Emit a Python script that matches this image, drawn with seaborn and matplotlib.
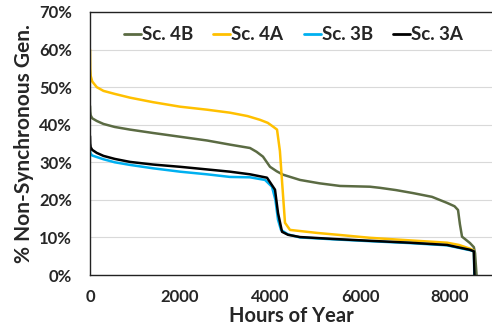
import matplotlib
matplotlib.use("Agg")
import matplotlib.pyplot as plt
import seaborn as sns
import pandas as pd
from matplotlib.lines import Line2D
from matplotlib.ticker import FuncFormatter

# ---- data ----
hours_4b = [0, 5, 15, 50, 150, 300, 550, 889, 1400, 2000, 2600, 3111, 3556, 3700, 3844, 4000, 4150, 4289, 4667, 5100, 5556, 6222, 6444, 6800, 7178, 7600, 7933, 8100, 8178, 8220, 8267, 8444, 8530, 8556, 8590]
sc4b = [45, 43.5, 42.5, 41.7, 41, 40.2, 39.4, 38.7, 37.8, 36.8, 35.8, 34.7, 33.8, 32.8, 31.5, 28.8, 27.6, 26.7, 25.3, 24.4, 23.7, 23.5, 23.2, 22.6, 21.8, 20.8, 19.2, 18.3, 17.3, 13.5, 10.2, 8.5, 7.4, 5.8, 0]

hours_4a = [0, 5, 15, 50, 150, 300, 550, 889, 1400, 2000, 2600, 3111, 3500, 3778, 3950, 4067, 4156, 4220, 4267, 4333, 4444, 5044, 5600, 6222, 7000, 7933, 8200, 8444, 8530, 8550]
sc4a = [60, 55, 53, 51.5, 50, 49, 48.2, 47.2, 46, 44.8, 44, 43.2, 42.3, 41.3, 40.5, 39.5, 38.7, 33, 25, 13.9, 12, 11.2, 10.6, 9.9, 9.3, 8.6, 8.0, 7.0, 6.5, 0]

hours_3b = [0, 5, 15, 50, 150, 300, 550, 889, 1400, 2000, 2600, 3111, 3556, 3889, 4044, 4120, 4178, 4244, 4400, 4667, 5400, 6222, 7100, 7933, 8444, 8530, 8540]
sc3b = [33.5, 32.8, 32.3, 31.8, 31.4, 30.8, 30.0, 29.3, 28.4, 27.5, 26.8, 26.1, 26.0, 25.3, 23.5, 20, 14.7, 12, 10.8, 10.0, 9.5, 9.0, 8.5, 7.9, 6.6, 6.3, 0]

hours_3a = [0, 5, 15, 50, 150, 300, 550, 889, 1400, 2000, 2600, 3111, 3556, 3933, 4111, 4178, 4267, 4400, 4667, 5400, 6222, 7100, 7933, 8444, 8530, 8545]
sc3a = [37, 35, 34, 33.3, 32.5, 31.7, 30.9, 30.1, 29.4, 28.8, 28.1, 27.5, 26.8, 25.9, 22.7, 16.5, 11.5, 10.7, 10.1, 9.6, 9.1, 8.6, 8.0, 6.7, 6.3, 0]

series_names = ["Sc. 4B", "Sc. 4A", "Sc. 3B", "Sc. 3A"]
x_ticks = [0, 2000, 4000, 6000, 8000]
y_ticks = [0, 10, 20, 30, 40, 50, 60, 70]

colors = {"Sc. 4B": "#5B6B43", "Sc. 4A": "#FFC000", "Sc. 3B": "#00B0F0", "Sc. 3A": "#000000"}

frames = []
for name, h, v in zip(series_names, [hours_4b, hours_4a, hours_3b, hours_3a], [sc4b, sc4a, sc3b, sc3a]):
    frames.append(pd.DataFrame({"hours": h, "value": v, "series": name}))
df = pd.concat(frames, ignore_index=True)

sns.set_theme(style="white")
plt.rcParams["font.family"] = ["Lato", "DejaVu Sans"]
plt.rcParams["font.weight"] = "bold"

fig = plt.figure(figsize=(4.92, 3.34), dpi=100)
ax = fig.add_axes([90 / 492, 1 - 275 / 334, 1 - 90 / 492, (275 - 12) / 334])

for name in series_names:
    sub = df[df["series"] == name]
    sns.lineplot(data=sub, x="hours", y="value", color=colors[name], linewidth=1.8,
                 sort=False, estimator=None, ax=ax, legend=False)

ax.set_xlim(0, 8933)
ax.set_ylim(0, 70)
ax.set_xticks(x_ticks)
ax.set_yticks(y_ticks)
ax.yaxis.set_major_formatter(FuncFormatter(lambda v, p: f"{int(v)}%"))
ax.grid(axis="y", color="#d9d9d9", linewidth=0.8)
ax.grid(axis="x", visible=False)
ax.tick_params(axis="both", length=0, labelsize=12)
ax.tick_params(axis="y", pad=13)
ax.tick_params(axis="x", pad=10)
for lab in ax.get_xticklabels() + ax.get_yticklabels():
    lab.set_fontweight("bold")

for s in ["left", "bottom", "top"]:
    ax.spines[s].set_color("#222222")
    ax.spines[s].set_linewidth(1.0)
ax.spines["right"].set_visible(False)

ax.set_xlabel("Hours of Year", fontsize=14.5, fontweight="bold", labelpad=1)
ax.set_ylabel("% Non-Synchronous Gen.", fontsize=15, fontweight="bold", labelpad=4)

handles = [Line2D([0], [0], color=colors[n], linewidth=2) for n in series_names]
leg = ax.legend(handles, series_names, loc="upper center", bbox_to_anchor=(0.506, 1.01), ncol=4,
                frameon=False, handlelength=0.9, handletextpad=0.05, columnspacing=1.1,
                prop={"weight": "bold", "size": 13.5})

fig.savefig("out.png", dpi=100)
